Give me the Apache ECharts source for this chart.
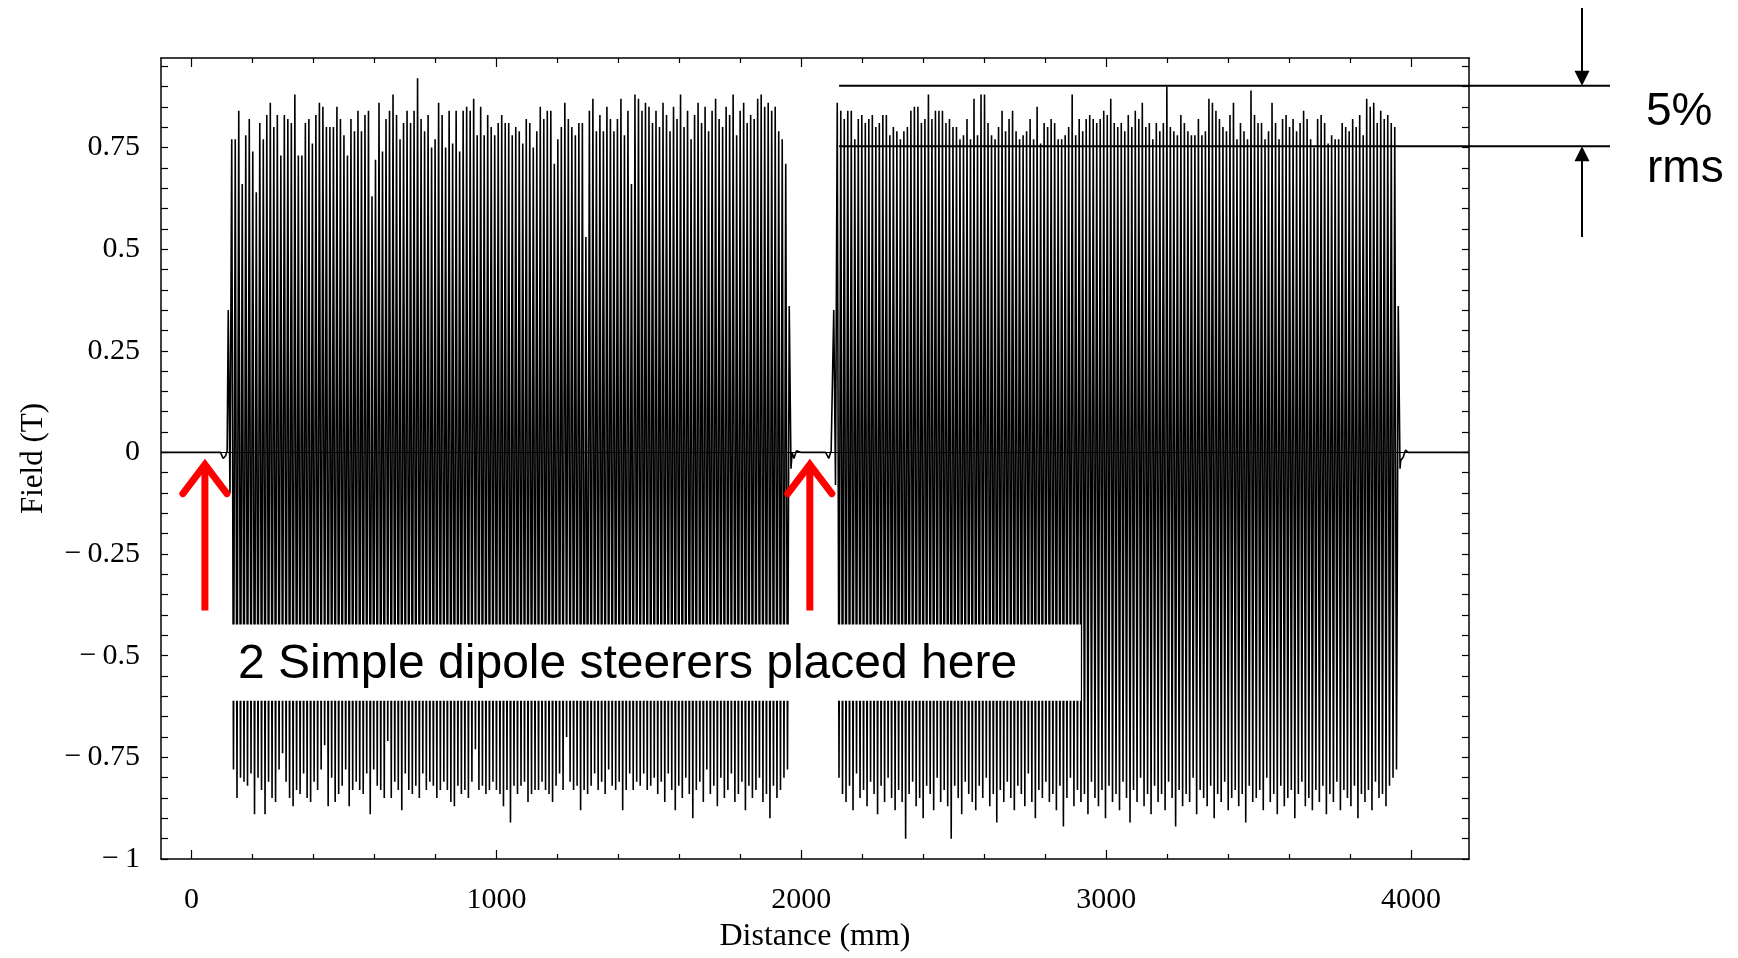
<!DOCTYPE html>
<html>
<head>
<meta charset="utf-8">
<script src="https://cdn.jsdelivr.net/npm/echarts@6/dist/echarts.min.js"></script>
<style>
  html, body { margin: 0; padding: 0; background: #fff; }
  #chart { width: 1738px; height: 958px; }
</style>
</head>
<body>
<div id="chart"></div>
<script>
// On-axis field of the two undulator modules, peak by peak.
const PERIOD_MM = 11.5;

// Module 1: first positive peak position (mm), then positive / negative peak fields (T)
const seg1StartMm = 120.5;
const seg1Pos = [0.35,
  0.77,0.77,0.84,0.66,0.78,0.82,0.74,0.64,0.81,0.77,
  0.83,0.86,0.80,0.83,0.73,0.83,0.82,0.81,0.88,0.73,
  0.73,0.81,0.82,0.76,0.83,0.86,0.85,0.80,0.80,0.80,
  0.85,0.82,0.78,0.73,0.82,0.79,0.84,0.79,0.83,0.84,
  0.63,0.72,0.86,0.74,0.82,0.84,0.88,0.83,0.77,0.81,
  0.84,0.81,0.84,0.92,0.82,0.79,0.83,0.75,0.77,0.86,
  0.83,0.75,0.84,0.76,0.84,0.74,0.84,0.85,0.84,0.87,
  0.78,0.85,0.78,0.83,0.80,0.78,0.81,0.83,0.81,0.81,
  0.78,0.80,0.79,0.76,0.82,0.81,0.75,0.79,0.85,0.82,
  0.84,0.84,0.71,0.77,0.80,0.86,0.82,0.80,0.78,0.81,
  0.81,0.53,0.84,0.87,0.79,0.83,0.79,0.85,0.82,0.79,
  0.82,0.87,0.78,0.84,0.66,0.88,0.87,0.84,0.86,0.85,
  0.81,
  0.84,0.80,0.86,0.83,0.79,0.85,0.82,0.88,0.80,0.84,
  0.77,0.83,0.86,0.81,0.85,0.79,0.84,0.87,0.82,0.80,
  0.85,0.83,0.88,0.78,0.84,0.86,0.81,0.83,0.82,0.87,
  0.88,0.85,0.86,0.84,0.85,0.79,0.77,0.71,
  0.36];
const seg1Neg = [-0.10,
  -0.78,-0.85,-0.80,-0.81,-0.82,-0.79,-0.89,-0.80,-0.83,-0.89,
  -0.81,-0.85,-0.86,-0.78,-0.74,-0.81,-0.85,-0.87,-0.83,-0.84,
  -0.79,-0.85,-0.86,-0.81,-0.83,-0.78,-0.72,-0.87,-0.80,-0.86,
  -0.84,-0.82,-0.78,-0.87,-0.83,-0.81,-0.83,-0.84,-0.79,-0.89,
  -0.78,-0.82,-0.83,-0.85,-0.71,-0.85,-0.81,-0.83,-0.88,-0.79,
  -0.83,-0.84,-0.82,-0.85,-0.79,-0.83,-0.81,-0.82,-0.85,-0.83,
  -0.81,-0.83,-0.86,-0.87,-0.82,-0.84,-0.83,-0.85,-0.81,-0.73,
  -0.83,-0.82,-0.84,-0.83,-0.81,-0.83,-0.84,-0.87,-0.83,-0.91,
  -0.82,-0.84,-0.82,-0.81,-0.86,-0.84,-0.83,-0.83,-0.81,-0.83,
  -0.84,-0.86,-0.82,-0.79,-0.83,-0.70,-0.81,-0.83,-0.82,-0.88,
  -0.83,-0.84,-0.82,-0.79,-0.83,-0.81,-0.84,-0.78,-0.82,-0.83,
  -0.81,-0.88,-0.83,-0.79,-0.83,-0.81,-0.82,-0.79,-0.83,-0.82,
  -0.80,
  -0.84,-0.81,-0.86,-0.79,-0.83,-0.88,-0.82,-0.85,-0.80,-0.84,
  -0.90,-0.83,-0.81,-0.86,-0.78,-0.84,-0.82,-0.87,-0.80,-0.85,
  -0.83,-0.79,-0.86,-0.84,-0.81,-0.88,-0.82,-0.85,-0.83,-0.80,
  -0.86,-0.84,-0.90,-0.82,-0.85,-0.83,-0.80,-0.78,
  -0.04];

// Module 2
const seg2StartMm = 2106.5;
const seg2Pos = [0.35,
  0.86,0.84,0.82,0.84,0.84,0.77,0.82,0.83,0.81,0.82,
  0.83,0.80,0.81,0.83,0.83,0.78,0.80,0.79,0.77,0.79,
  0.80,0.84,0.85,0.85,0.81,0.82,0.88,0.82,0.84,0.84,
  0.84,0.81,0.82,0.80,0.80,0.77,0.78,0.82,0.77,0.87,
  0.78,0.88,0.88,0.81,0.78,0.77,0.80,0.84,0.79,0.82,
  0.84,0.79,0.77,0.78,0.79,0.82,0.77,0.85,0.76,0.81,
  0.80,0.82,0.81,0.77,0.77,0.78,0.80,0.88,0.78,0.82,
  0.79,0.82,0.83,0.82,0.81,0.82,0.84,0.83,0.87,0.81,
  0.80,0.81,0.79,0.83,0.80,0.84,0.82,0.86,0.80,0.81,
  0.77,0.81,0.79,0.81,0.90,0.80,0.79,0.78,0.83,0.81,
  0.79,0.78,0.78,0.82,0.78,0.79,0.87,0.86,0.84,0.82,
  0.80,0.79,0.83,0.86,0.77,0.81,0.79,0.77,0.89,0.83,
  0.81,0.81,0.77,0.79,0.86,0.81,0.77,0.82,0.83,0.80,
  0.82,0.79,0.81,0.84,0.82,0.77,0.75,0.82,0.83,0.81,
  0.76,0.78,0.77,0.77,0.81,0.80,0.79,0.82,0.80,0.83,
  0.78,0.87,0.85,0.86,0.81,0.84,0.82,0.83,0.81,0.80,
  0.36];
const seg2Neg = [-0.08,
  -0.80,-0.84,-0.86,-0.82,-0.88,-0.79,-0.85,-0.83,-0.87,-0.81,
  -0.84,-0.89,-0.82,-0.86,-0.80,-0.85,-0.88,-0.83,-0.86,-0.95,
  -0.84,-0.81,-0.87,-0.85,-0.90,-0.82,-0.84,-0.88,-0.80,-0.86,
  -0.83,-0.87,-0.95,-0.82,-0.85,-0.89,-0.81,-0.84,-0.86,-0.88,
  -0.82,-0.85,-0.80,-0.87,-0.84,-0.91,-0.83,-0.86,-0.81,-0.85,
  -0.88,-0.82,-0.84,-0.87,-0.79,-0.86,-0.90,-0.83,-0.85,-0.81,
  -0.86,-0.84,-0.88,-0.82,-0.92,-0.85,-0.80,-0.87,-0.83,-0.86,
  -0.84,-0.89,-0.81,-0.85,-0.87,-0.83,-0.90,-0.82,-0.86,-0.84,
  -0.88,-0.81,-0.85,-0.91,-0.83,-0.86,-0.80,-0.87,-0.84,-0.89,
  -0.82,-0.86,-0.84,-0.88,-0.81,-0.85,-0.92,-0.83,-0.87,-0.84,
  -0.86,-0.80,-0.89,-0.83,-0.85,-0.87,-0.82,-0.90,-0.84,-0.86,
  -0.81,-0.88,-0.85,-0.83,-0.87,-0.84,-0.91,-0.82,-0.86,-0.85,
  -0.83,-0.88,-0.80,-0.86,-0.84,-0.89,-0.82,-0.87,-0.85,-0.83,
  -0.90,-0.84,-0.81,-0.87,-0.85,-0.88,-0.83,-0.86,-0.82,-0.89,
  -0.84,-0.86,-0.81,-0.88,-0.83,-0.85,-0.87,-0.82,-0.90,-0.84,
  -0.86,-0.83,-0.88,-0.81,-0.85,-0.84,-0.87,-0.82,-0.80,-0.78,
  -0.04];

// Field-free stretches before, between and after the modules: [mm, T]
const leadIn  = [[-100, 0], [95, 0], [104, -0.015], [112, -0.008], [117, 0.004]];
const midGap  = [[1970, 0], [1976, -0.015], [1984, 0.004], [2000, 0], [2080, 0], [2090, -0.015], [2098, 0.004]];
const tailOut = [[3966, -0.02], [3974, -0.012], [3982, 0.006], [3990, 0], [4190, 0]];

// Axes
const xRange = [-100, 4190];
const yRange = [-1, 0.97];
const xMajorTicks = [0, 1000, 2000, 3000, 4000];
const xMinorStep = 200;
const yMajorTicks = [-1, -0.75, -0.5, -0.25, 0, 0.25, 0.5, 0.75];
const yMinorStep = 0.05;

// Annotations
const steererMm = [44, 2028];            // red arrows
const arrowSpan = [-0.389, -0.03];       // tail, tip (T)
const rmsBand = [0.902, 0.753];          // 5% rms band (T)
const rmsBandStartMm = 2124;
const noteText = '2 Simple dipole steerers placed here';

function zigzag(start, pos, neg) {
  const pts = [];
  for (let i = 0; i < pos.length; i++) {
    const x = start + i * PERIOD_MM;
    pts.push([x, pos[i]]);
    pts.push([x + PERIOD_MM / 2, neg[i]]);
  }
  return pts;
}

const fieldData = [].concat(
  leadIn,
  zigzag(seg1StartMm, seg1Pos, seg1Neg),
  midGap,
  zigzag(seg2StartMm, seg2Pos, seg2Neg),
  tailOut
);

const xMinorTicks = [];
for (let v = xMinorStep; v < xRange[1]; v += xMinorStep) {
  if (v % 1000 !== 0) xMinorTicks.push(v);
}
const yAllTicks = [];
for (let k = Math.round(yRange[0] / yMinorStep); k * yMinorStep <= yRange[1] + 1e-9; k++) {
  yAllTicks.push(Math.round(k * yMinorStep * 100) / 100);
}

const serif = 'Liberation Serif';
const sans = 'Liberation Sans';
const black = '#000';

function xAxisDef(position, ticks, len, withLine, withLabel) {
  const a = {
    type: 'value', min: xRange[0], max: xRange[1], position: position,
    splitLine: { show: false },
    axisLine: { show: withLine, onZero: false, lineStyle: { color: black, width: 1.5 } },
    axisTick: { show: true, inside: true, length: len, customValues: ticks, lineStyle: { color: black, width: 1.2 } },
    axisLabel: {
      show: withLabel, customValues: ticks, margin: 26, color: black, fontFamily: serif, fontSize: 30,
      formatter: v => String(v)
    }
  };
  if (withLabel) {
    a.name = 'Distance (mm)';
    a.nameLocation = 'middle';
    a.nameGap = 62;
    a.nameTextStyle = { color: black, fontFamily: serif, fontSize: 32 };
  }
  return a;
}

function yAxisDef(position, withLabel) {
  const a = {
    type: 'value', min: yRange[0], max: yRange[1], position: position,
    splitLine: { show: false },
    axisLine: { show: true, onZero: false, lineStyle: { color: black, width: 1.5 } },
    axisTick: { show: true, inside: true, length: 7, customValues: yAllTicks, lineStyle: { color: black, width: 1.2 } },
    axisLabel: {
      show: withLabel, customValues: yMajorTicks, margin: 21, color: black, fontFamily: serif, fontSize: 30,
      formatter: v => (v < 0 ? '\u2212\u2009' : '') + String(Math.abs(v))
    }
  };
  if (withLabel) {
    a.name = 'Field (T)';
    a.nameLocation = 'middle';
    a.nameRotate = 90;
    a.nameGap = 112;
    a.nameTextStyle = { color: black, fontFamily: serif, fontSize: 31 };
  }
  return a;
}

const chart = echarts.init(document.getElementById('chart'), null, { renderer: 'canvas' });
chart.setOption({
  animation: false,
  backgroundColor: '#fff',
  grid: { left: 161, right: 269, top: 58, bottom: 93, containLabel: false },
  xAxis: [
    xAxisDef('bottom', xMajorTicks, 9, true, true),
    xAxisDef('bottom', xMinorTicks, 5, false, false),
    xAxisDef('top', xMajorTicks, 9, true, false),
    xAxisDef('top', xMinorTicks, 5, false, false)
  ],
  yAxis: [
    yAxisDef('left', true),
    yAxisDef('right', false)
  ],
  series: [{
    type: 'line',
    xAxisIndex: 0, yAxisIndex: 0,
    data: fieldData,
    showSymbol: false, symbol: 'none',
    lineStyle: { color: black, width: 1.6 },
    silent: true,
    markLine: {
      silent: true, symbol: ['none', 'none'], label: { show: false },
      lineStyle: { color: black, width: 1, type: 'solid' },
      data: [{ yAxis: 0 }]
    }
  }]
});

// Overlay annotations, placed through the chart's own coordinate system
const px = (x, y) => chart.convertToPixel({ seriesIndex: 0 }, [x, y]);
const graphics = [];

// White label box and note
const boxA = px(-65, -0.423), boxB = px(2917, -0.611);
graphics.push({
  type: 'rect', z: 100,
  shape: { x: boxA[0], y: boxA[1], width: boxB[0] - boxA[0], height: boxB[1] - boxA[1] },
  style: { fill: '#fff' }
});
const notePos = px(152.5, -0.5225);
graphics.push({
  type: 'text', z: 101, x: notePos[0], y: notePos[1],
  style: { text: noteText, fill: black, font: '48px ' + sans, textAlign: 'left', textVerticalAlign: 'middle' }
});

// Red arrows at the steerer positions
steererMm.forEach(mm => {
  const tail = px(mm, arrowSpan[0]);
  const tip = px(mm, arrowSpan[1]);
  graphics.push({
    type: 'line', z: 102,
    shape: { x1: tip[0], y1: tip[1] + 4, x2: tail[0], y2: tail[1] },
    style: { stroke: '#ff0000', lineWidth: 7, lineCap: 'butt' }
  });
  graphics.push({
    type: 'polyline', z: 102,
    shape: { points: [[tip[0] - 22, tip[1] + 29], [tip[0], tip[1]], [tip[0] + 22, tip[1] + 29]] },
    style: { stroke: '#ff0000', lineWidth: 7, lineCap: 'round', lineJoin: 'miter', fill: 'none' }
  });
});

// 5% rms band: two horizontal lines with arrows and label
const bandTop = px(rmsBandStartMm, rmsBand[0]);
const bandLow = px(rmsBandStartMm, rmsBand[1]);
const bandRight = 1610;
const arrowX = 1582;
[bandTop, bandLow].forEach(p => {
  graphics.push({
    type: 'line', z: 103,
    shape: { x1: p[0], y1: p[1], x2: bandRight, y2: p[1] },
    style: { stroke: black, lineWidth: 2 }
  });
});
graphics.push({
  type: 'line', z: 103,
  shape: { x1: arrowX, y1: 8, x2: arrowX, y2: bandTop[1] - 14 },
  style: { stroke: black, lineWidth: 2 }
});
graphics.push({
  type: 'polygon', z: 103,
  shape: { points: [[arrowX - 7.5, bandTop[1] - 15], [arrowX + 7.5, bandTop[1] - 15], [arrowX, bandTop[1]]] },
  style: { fill: black }
});
graphics.push({
  type: 'line', z: 103,
  shape: { x1: arrowX, y1: bandLow[1] + 14, x2: arrowX, y2: 237 },
  style: { stroke: black, lineWidth: 2 }
});
graphics.push({
  type: 'polygon', z: 103,
  shape: { points: [[arrowX - 7.5, bandLow[1] + 15], [arrowX + 7.5, bandLow[1] + 15], [arrowX, bandLow[1]]] },
  style: { fill: black }
});
graphics.push({
  type: 'text', z: 103, x: 1646, y: bandTop[1] + 27,
  style: { text: '5%', fill: black, font: '46px ' + sans, textAlign: 'left', textVerticalAlign: 'middle' }
});
graphics.push({
  type: 'text', z: 103, x: 1647, y: bandLow[1] + 23,
  style: { text: 'rms', fill: black, font: '46px ' + sans, textAlign: 'left', textVerticalAlign: 'middle' }
});

chart.setOption({ graphic: graphics });
</script>
</body>
</html>
